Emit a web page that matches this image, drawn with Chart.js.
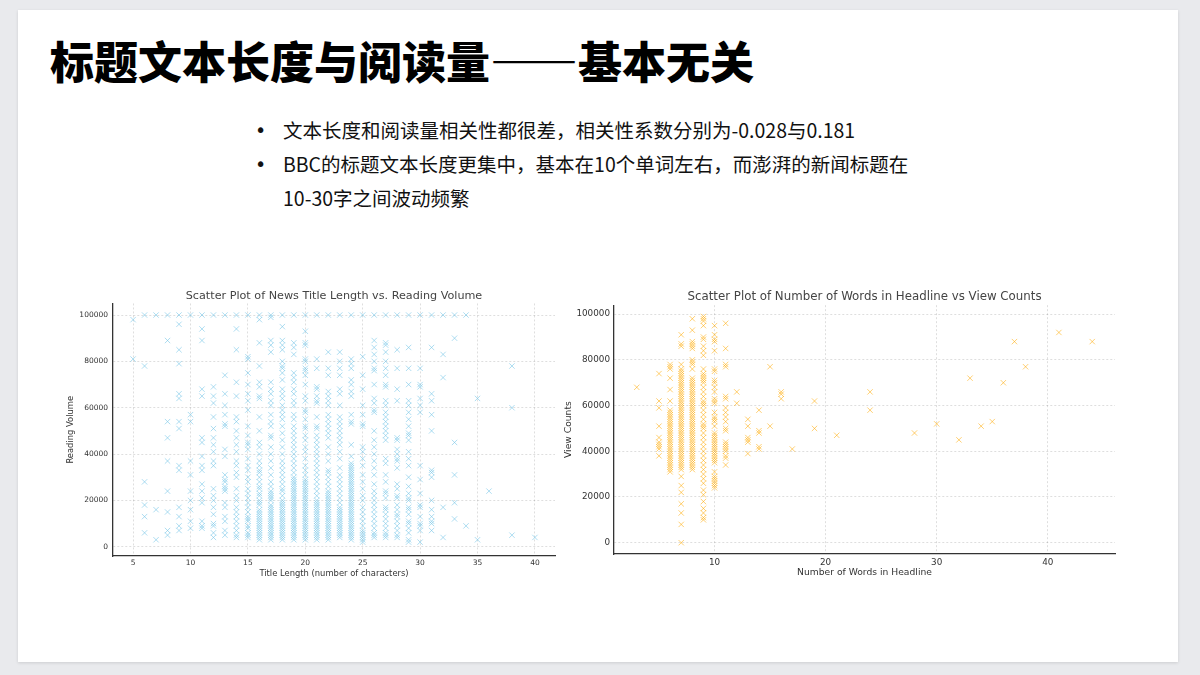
<!DOCTYPE html>
<html lang="zh-CN">
<head>
<meta charset="utf-8">
<title>标题文本长度与阅读量</title>
<script src="https://cdn.jsdelivr.net/npm/chart.js@4/dist/chart.umd.min.js"></script>
<style>
  html, body { margin: 0; padding: 0; }
  body { width: 1200px; height: 675px; background: #e9eaed; position: relative; overflow: hidden; font-family: "Noto Sans CJK SC", sans-serif; }
  .card { position: absolute; left: 18px; top: 10px; width: 1160px; height: 652px; background: #fff; box-shadow: 0 1px 3px rgba(0,0,0,0.12); }
  h1 { position: absolute; left: 50px; top: 30px; margin: 0; font-size: 44px; line-height: 60px; font-weight: 900; color: #000; letter-spacing: 0; }
  ul { position: absolute; left: 258px; top: 113px; margin: 0; padding: 0; list-style: none; font-size: 19.5px; line-height: 34px; color: #111; }
  li { position: relative; padding-left: 25px; }
  li::before { content: "•"; position: absolute; left: -3px; top: 0; font-size: 19px; font-family: "DejaVu Sans", sans-serif; }
  canvas { position: absolute; }
  #leftChart { left: 60px; top: 285px; }
  #rightChart { left: 560px; top: 285px; }
</style>
</head>
<body>
<div class="card"></div>
<h1>标题文本长度与阅读量——基本无关</h1>
<ul>
  <li>文本长度和阅读量相关性都很差，相关性系数分别为-0.028与0.181</li>
  <li>BBC的标题文本长度更集中，基本在10个单词左右，而澎湃的新闻标题在<br>10-30字之间波动频繁</li>
</ul>
<canvas id="leftChart" width="500" height="300"></canvas>
<canvas id="rightChart" width="560" height="300"></canvas>
<script>
// left chart: title length (characters) vs reading volume, values in thousands
const titleLengths = [5, 6, 7, 8, 9, 10, 11, 12, 13, 14, 15, 16, 17, 18, 19, 20, 21, 22, 23, 24, 25, 26, 27, 28, 29, 30, 31, 32, 33, 34, 35, 36, 38, 40];
const readingVolumeK = [
  [98, 81],
  [100, 78, 28, 18, 13, 6],
  [100, 16, 3],
  [100, 89, 54, 47, 37, 24, 15, 7, 5],
  [100, 96, 85, 79, 66, 64, 54, 51, 35, 33, 17, 13, 9, 7],
  [100, 57, 54, 37, 31, 24, 20, 16, 11, 8],
  [100, 94, 89, 68, 65, 47, 45, 39, 35, 33, 27, 24, 21, 19, 11, 9, 8],
  [100, 69, 65, 62, 56, 51, 47, 44, 41, 37, 35, 25, 22, 20, 17, 14, 10, 9, 6, 4],
  [100, 74, 66, 61, 57, 53, 52, 42, 39, 31, 29, 28, 26, 25, 24, 19, 17, 13, 11, 7, 5],
  [100, 94, 85, 71, 65, 56, 54, 50, 47, 44, 41, 37, 35, 32, 30, 25, 22, 20, 17, 15, 13, 11, 9, 7, 5, 4],
  [100, 82, 81, 75, 70, 66, 63, 59, 52, 48, 45, 44, 42, 38, 35, 33, 30, 28, 25, 23, 21, 19, 17, 15, 13, 12, 11, 9, 8, 6, 5, 4],
  [100, 98, 88, 78, 71, 69, 65, 64, 56, 50, 45, 43, 40, 37, 35, 33, 32, 30, 28, 26, 25, 23, 22, 20, 19, 18, 16, 15, 14, 13, 12, 11, 10, 9, 8, 7, 6, 5, 4, 3],
  [100, 99, 89, 87, 84, 71, 68, 66, 63, 61, 57, 54, 52, 48, 47, 43, 40, 37, 34, 31, 28, 26, 24, 23, 22, 21, 20, 18, 17, 16, 15, 14, 13, 12, 11, 10, 9, 8, 7, 6, 5, 4, 3],
  [100, 95, 89, 87, 85, 80, 78, 77, 75, 72, 68, 66, 64, 61, 59, 57, 55, 52, 49, 46, 43, 40, 37, 35, 33, 31, 29, 27, 25, 24, 22, 20, 19, 18, 17, 16, 15, 14, 13, 12, 11, 10, 9, 8, 7, 6, 5, 4, 3],
  [100, 88, 86, 83, 75, 73, 71, 68, 66, 63, 61, 57, 55, 52, 50, 48, 46, 44, 42, 40, 38, 36, 34, 32, 30, 29, 28, 27, 26, 25, 24, 23, 22, 21, 20, 19, 18, 17, 16, 15, 14, 13, 12, 11, 10, 9, 8, 7, 6, 5, 4, 3],
  [100, 93, 88, 87, 81, 80, 77, 76, 74, 70, 65, 63, 59, 58, 55, 52, 51, 48, 46, 43, 41, 38, 35, 33, 31, 29, 28, 27, 26, 25, 24, 23, 22, 21, 20, 19, 18, 17, 16, 15, 14, 13, 12, 11, 10, 9, 8, 7, 6, 5, 4, 3],
  [100, 81, 77, 69, 68, 65, 63, 62, 56, 52, 51, 48, 46, 44, 42, 40, 38, 36, 34, 32, 30, 28, 26, 24, 22, 20, 19, 18, 17, 16, 15, 14, 13, 12, 11, 10, 9, 8, 7, 6, 5, 4, 3],
  [100, 84, 77, 74, 67, 65, 63, 61, 57, 55, 53, 51, 49, 47, 43, 40, 37, 33, 32, 30, 28, 26, 24, 23, 22, 21, 20, 19, 18, 17, 16, 15, 14, 13, 12, 11, 10, 9, 8, 7, 6, 5, 4, 3],
  [100, 84, 80, 77, 74, 68, 66, 61, 56, 54, 52, 50, 48, 46, 44, 41, 38, 34, 31, 29, 27, 25, 23, 21, 19, 17, 16, 15, 14, 13, 12, 11, 10, 9, 8, 7, 6, 5, 4],
  [100, 81, 79, 77, 72, 70, 67, 65, 57, 54, 53, 44, 39, 36, 35, 34, 33, 32, 31, 30, 29, 28, 27, 26, 25, 24, 23, 22, 21, 20, 19, 18, 17, 16, 15, 14, 13, 12, 11, 10, 9, 8, 7, 6, 5, 4, 3],
  [100, 82, 74, 68, 61, 57, 53, 52, 43, 41, 38, 35, 31, 28, 25, 22, 20, 17, 15, 13, 11, 9, 7, 6, 5, 4, 3, 2],
  [100, 89, 86, 83, 80, 77, 76, 70, 64, 62, 59, 58, 50, 46, 43, 40, 37, 34, 31, 27, 24, 22, 20, 18, 16, 14, 12, 10, 8, 6, 5, 4],
  [100, 88, 87, 84, 80, 77, 74, 70, 69, 63, 61, 58, 56, 54, 52, 50, 48, 46, 38, 36, 31, 28, 24, 23, 21, 17, 16, 14, 12, 10, 8, 6, 5, 4],
  [100, 85, 77, 68, 63, 47, 46, 42, 40, 38, 37, 34, 27, 25, 22, 21, 18, 16, 14, 13, 11, 9, 7, 5, 4],
  [100, 86, 77, 70, 63, 61, 58, 55, 52, 49, 48, 46, 41, 38, 35, 30, 26, 23, 21, 20, 17, 16, 14, 11, 10, 8, 6, 3, 2],
  [100, 77, 70, 69, 64, 61, 58, 35, 29, 23, 18, 17, 13, 10, 9, 7, 2],
  [100, 86, 66, 63, 57, 50, 33, 32, 30, 20, 16, 13, 11, 10, 7],
  [100, 83, 73, 17, 4],
  [100, 90, 45, 31, 19, 12],
  [100, 9],
  [64, 3],
  [24],
  [78, 60, 5],
  [4]
];

// right chart: words in headline vs view counts, values in thousands
const headlineWords = [3, 5, 6, 7, 8, 9, 10, 11, 12, 13, 14, 15, 16, 17, 19, 21, 24, 28, 30, 32, 33, 34, 35, 36, 37, 38, 41, 44];
const viewCountsK = [
  [68],
  [74, 62, 59, 51, 46, 44, 43, 42, 41, 38],
  [78, 77, 76, 72, 67, 62, 58, 57, 56, 55, 54, 53, 52, 51, 50, 49, 48, 47, 46, 45, 44, 43, 42, 41, 40, 39, 38, 37, 36, 35, 34, 33, 32, 31],
  [91, 87, 86, 78, 76, 75, 74, 73, 72, 71, 70, 69, 68, 67, 66, 65, 64, 63, 62, 61, 60, 59, 58, 57, 56, 55, 54, 53, 52, 51, 50, 49, 48, 47, 46, 45, 44, 43, 42, 41, 40, 39, 38, 37, 36, 35, 34, 33, 32, 29, 25, 22, 17, 13, 8, 0],
  [98, 93, 88, 87, 86, 85, 80, 79, 78, 76, 72, 71, 70, 69, 68, 67, 66, 65, 64, 63, 62, 61, 60, 59, 58, 57, 56, 55, 54, 53, 52, 51, 50, 49, 48, 47, 46, 45, 44, 43, 42, 41, 40, 39, 38, 37, 36, 35, 34, 33, 32],
  [99, 98, 97, 95, 90, 89, 86, 84, 82, 76, 74, 73, 72, 71, 70, 68, 66, 64, 62, 61, 60, 58, 56, 54, 52, 51, 50, 48, 46, 44, 42, 40, 38, 36, 34, 32, 30, 28, 26, 23, 21, 18, 15, 13, 11, 10],
  [95, 91, 89, 88, 84, 76, 75, 71, 70, 68, 66, 63, 62, 61, 57, 55, 54, 53, 51, 48, 47, 46, 45, 44, 43, 42, 41, 40, 39, 38, 37, 36, 35, 31, 29, 28, 27, 26, 25, 24],
  [96, 85, 78, 77, 64, 63, 59, 57, 55, 53, 50, 49, 44, 43, 42, 41, 40, 38, 37, 34],
  [66, 61],
  [54, 51, 46, 45, 44, 39],
  [58, 49, 48, 42, 41],
  [77, 51],
  [66, 65, 63],
  [41],
  [62, 50],
  [47],
  [66, 58],
  [48],
  [52],
  [45],
  [72],
  [51],
  [53],
  [70],
  [88],
  [77],
  [92],
  [88]
];

const yTicks = [0, 20000, 40000, 60000, 80000, 100000];

function toPoints(xs, ysK) {
  let pts = [];
  xs.forEach((x, i) => {
    ysK[i].forEach(v => pts.push({ x: x, y: v * 1000 }));
  });
  return pts;
}

function makeOptions(cfg) {
  const tickFont = { family: "DejaVu Sans", size: cfg.tickSize };
  const axisFont = { family: "DejaVu Sans", size: cfg.axisSize };
  return {
    responsive: false,
    animation: false,
    layout: { padding: { right: 5 } },
    plugins: {
      legend: { display: false },
      tooltip: { enabled: false },
      title: {
        display: true,
        fullSize: false,
        text: cfg.title,
        color: '#444',
        font: { family: "DejaVu Sans", size: cfg.titleSize, weight: 'normal' },
        padding: cfg.titlePad
      }
    },
    scales: {
      x: {
        type: 'linear',
        min: cfg.xMin,
        max: cfg.xMax,
        afterFit: s => { s.height = cfg.xHeight; },
        ticks: { stepSize: cfg.xStep, includeBounds: false, color: '#333', font: tickFont, padding: 3, maxRotation: 0, callback: v => String(v) },
        grid: { color: 'rgba(0,0,0,0.13)', drawTicks: false },
        border: { display: true, color: '#333', width: 1.3, dash: [2, 2] },
        title: { display: true, text: cfg.xTitle, color: '#333', font: axisFont, padding: { top: cfg.xTitlePad, bottom: cfg.xTitlePad } }
      },
      y: {
        type: 'linear',
        min: cfg.yMin,
        max: cfg.yMax,
        afterFit: s => { s.width = cfg.yWidth; },
        afterBuildTicks: s => { s.ticks = yTicks.map(v => ({ value: v })); },
        ticks: { color: '#333', font: tickFont, padding: cfg.yPad, callback: v => String(v) },
        grid: { color: 'rgba(0,0,0,0.13)', drawTicks: false },
        border: { display: true, color: '#333', width: 1.3, dash: [2, 2] },
        title: { display: true, text: cfg.yTitle, color: '#333', font: axisFont, padding: { top: cfg.yTitlePad, bottom: cfg.yTitlePad } }
      }
    }
  };
}

new Chart(document.getElementById('leftChart'), {
  type: 'scatter',
  data: {
    datasets: [{
      data: toPoints(titleLengths, readingVolumeK),
      pointStyle: 'crossRot',
      pointRadius: 3.8,
      borderWidth: 1,
      borderColor: 'rgba(120,198,232,0.6)',
      backgroundColor: 'rgba(120,198,232,0.6)'
    }]
  },
  options: makeOptions({
    title: 'Scatter Plot of News Title Length vs. Reading Volume',
    titleSize: 11.2,
    titlePad: { top: 4, bottom: 1 },
    tickSize: 7.5,
    axisSize: 8.4,
    xTitle: 'Title Length (number of characters)',
    yTitle: 'Reading Volume',
    xMin: 3.25, xMax: 41.75, xStep: 5,
    yMin: -4000, yMax: 105000,
    xHeight: 29, yWidth: 53, yPad: 5,
    xTitlePad: 6, yTitlePad: 6
  })
});

new Chart(document.getElementById('rightChart'), {
  type: 'scatter',
  data: {
    datasets: [{
      data: toPoints(headlineWords, viewCountsK),
      pointStyle: 'crossRot',
      pointRadius: 3.8,
      borderWidth: 1,
      borderColor: 'rgba(255,170,0,0.55)',
      backgroundColor: 'rgba(255,170,0,0.55)'
    }]
  },
  options: makeOptions({
    title: 'Scatter Plot of Number of Words in Headline vs View Counts',
    titleSize: 11.8,
    titlePad: { top: 4.5, bottom: 1.5 },
    tickSize: 8.8,
    axisSize: 9.2,
    xTitle: 'Number of Words in Headline',
    yTitle: 'View Counts',
    xMin: 0.95, xMax: 46.05, xStep: 10,
    yMin: -4950, yMax: 103950,
    xHeight: 31, yWidth: 54, yPad: 4,
    xTitlePad: 6.5, yTitlePad: 3
  })
});
</script>
</body>
</html>
